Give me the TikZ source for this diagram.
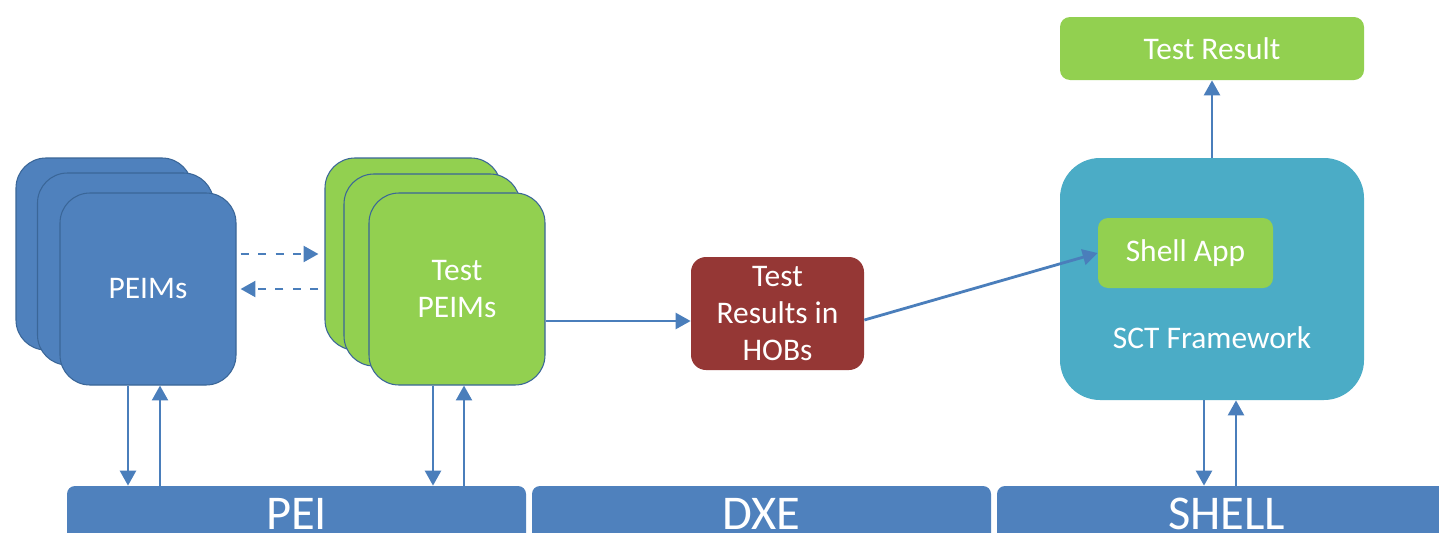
\documentclass[tikz,border=0pt]{standalone}
\usepackage{fontspec}
\setmainfont{Carlito}
\usepackage{tikz}
\usetikzlibrary{positioning,arrows.meta,calc}
\usepackage{xcolor}
\definecolor{peiblue}{HTML}{4F81BD}
\definecolor{edgeblue}{HTML}{3A6698}
\definecolor{arrowblue}{HTML}{4A7EBB}
\definecolor{testgreen}{HTML}{92D050}
\definecolor{sctteal}{HTML}{4BACC6}
\definecolor{hobred}{HTML}{953735}

\begin{document}
\begin{tikzpicture}[>={Triangle[length=8.5pt,width=9pt]},
    txt/.style={text=white, font=\fontsize{17.9}{21.2}\selectfont, align=center},
    stackbox/.style={draw=edgeblue, line width=0.6pt, rounded corners=0.6cm,
      minimum width=3.52cm, minimum height=3.84cm, inner sep=0pt},
    phasebar/.style={fill=peiblue, rounded corners=0.16cm, minimum height=1.12cm,
      inner sep=0pt, text=white, font=\fontsize{27.6}{30}\selectfont},
    link/.style={arrowblue, line width=1.6pt, ->},
    dashlink/.style={link, dash pattern=on 4.6pt off 5.4pt}]
    \fill[white] (0,0) rectangle (28.78,10.64);
    \clip (0,0) rectangle (28.78,10.64);
    \useasboundingbox (0,0) rectangle (28.78,10.64);
    % phases along the bottom
    \node[phasebar, minimum width=9.18cm] (pei) at (5.93,0.36) {PEI};
    \node[phasebar, minimum width=9.18cm] (dxe) at (15.23,0.36) {DXE};
    \node[phasebar, minimum width=9.18cm] (shell) at (24.53,0.36) {SHELL};
    % stacked PEIMs
    \node[stackbox, fill=peiblue] (peimA) at (2.08,5.56) {};
    \node[stackbox, fill=peiblue] (peimB) at (2.51,5.26) {};
    \node[stackbox, fill=peiblue, txt] (peimC) at (2.96,4.86) {PEIMs};
    % stacked test PEIMs
    \node[stackbox, fill=testgreen] (tpeimA) at (8.26,5.56) {};
    \node[stackbox, fill=testgreen] (tpeimB) at (8.64,5.24) {};
    \node[stackbox, fill=testgreen, txt] (tpeimC) at (9.14,4.86) {Test\\PEIMs};
    % results
    \node[fill=hobred, rounded corners=0.3cm, minimum width=3.46cm, minimum height=2.26cm,
      inner sep=0pt, txt] (hobs) at (15.55,4.37) {Test\\Results in\\HOBs};
    \node[fill=sctteal, rounded corners=0.8cm, minimum width=6.08cm, minimum height=4.84cm] (sct) at (24.24,5.06) {};
    \node[fill=testgreen, rounded corners=0.2cm, minimum width=3.5cm, minimum height=1.4cm,
      txt] (shellapp) at (23.71,5.58) {Shell App};
    \node[txt] (sctlabel) at (24.24,3.88) {SCT Framework};
    \node[fill=testgreen, rounded corners=0.2cm, minimum width=6.08cm, minimum height=1.26cm,
      txt] (result) at (24.24,9.67) {Test Result};
    % connectors
    \draw[dashlink] ([xshift=0.08cm]peimC.east |- tpeimA.west) -- ([xshift=-0.12cm]tpeimA.west);
    \draw[dashlink] ([xshift=-0.12cm]tpeimA.west |- peimC.east) -- ([xshift=0.08cm]peimC.east);
    \draw[link] ([xshift=-0.4cm]peimC.south) -- ([xshift=-0.4cm]peimC.south |- pei.north);
    \draw[link] ([xshift=0.24cm]peimC.south |- pei.north) -- ([xshift=0.24cm]peimC.south);
    \draw[link] ([xshift=-0.48cm]tpeimC.south) -- ([xshift=-0.48cm]tpeimC.south |- pei.north);
    \draw[link] ([xshift=0.14cm]tpeimC.south |- pei.north) -- ([xshift=0.14cm]tpeimC.south);
    \draw[link] ([yshift=-0.64cm]tpeimC.east) -- ([yshift=-0.64cm]tpeimC.east -| hobs.west);
    \draw[link] ([yshift=-0.13cm]hobs.east) -- (shellapp.west);
    \draw[link] (sct.north) -- (result.south);
    \draw[link] ([xshift=-0.16cm]sct.south) -- ([xshift=-0.16cm]sct.south |- shell.north);
    \draw[link] ([xshift=0.48cm]sct.south |- shell.north) -- ([xshift=0.48cm]sct.south);
  \end{tikzpicture}
\end{document}
